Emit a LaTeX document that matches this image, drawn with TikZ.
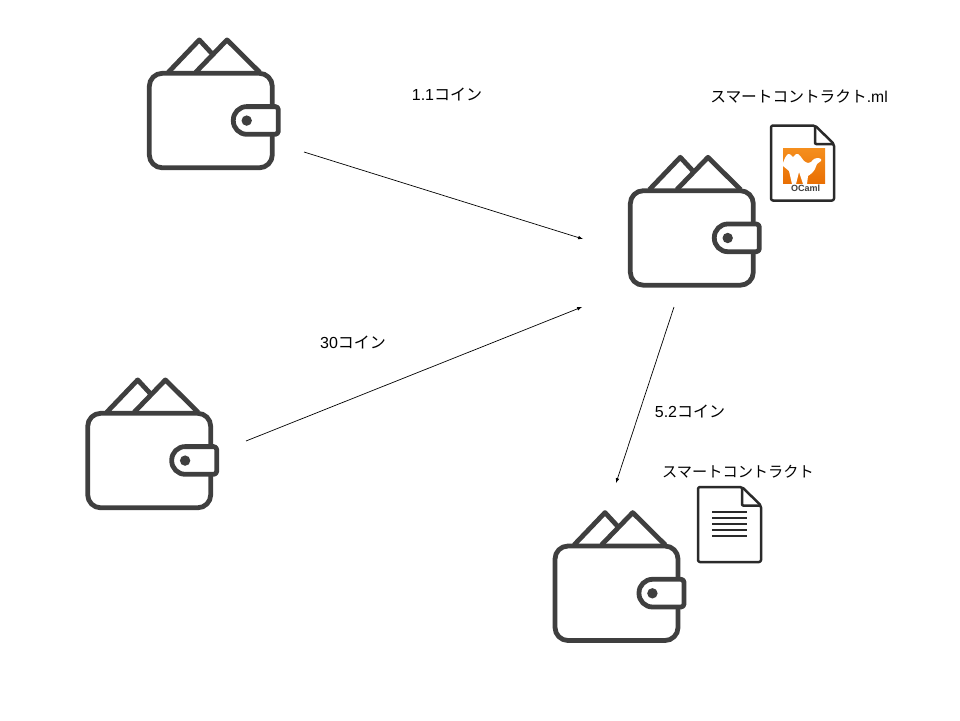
\documentclass[tikz,border=0pt]{standalone}
\usepackage{fontspec}
\setmainfont{Liberation Sans}
\newfontfamily\cjk{Noto Sans CJK JP}
\usetikzlibrary{positioning}
\definecolor{iconGray}{HTML}{3F3F3F}
\definecolor{fileGray}{HTML}{2A2A2A}
\definecolor{camelLight}{HTML}{F58F1E}
\definecolor{camelDark}{HTML}{E96F03}
\tikzset{
    transfer/.style={-latex,black,line width=0.7pt},
    caption/.style={inner sep=0pt,font=\fontsize{16}{18}\selectfont},
    iconLine/.style={iconGray,line width=4.8pt,line join=round},
    fileLine/.style={fileGray,line width=2.5pt,line join=round},
    pics/wallet/.style={code={
        \draw[iconLine] (19,-1) -- (50,-33.4) -- (62.4,-20);
        \draw[iconLine] (46.4,-1) -- (77.7,-33.4) -- (110.4,-1);
        \draw[iconLine,rounded corners=13pt] (123,33) -- (123,0) -- (0,0) -- (0,94.5) -- (123,94.5) -- (123,61);
        \draw[iconLine,fill=white,rounded corners=13.5pt] (110,33.3) -- (84,33.3) -- (84,61) -- (110,61) [rounded corners=3pt] -- (129,61) -- (129,33.3) -- cycle;
        \fill[iconGray] (97.4,47.3) circle (5.2);
    }},
    pics/filepage/.style={code={
        \draw[fileLine,fill=white,rounded corners=2pt] (0,0) -- (44,0) -- (63,18.5) -- (63,75) -- (0,75) -- cycle;
        \draw[fileLine,rounded corners=1pt] (44,0) -- (44,18.5) -- (63,18.5);
    }}
}
\begin{document}
\begin{tikzpicture}[x=1pt,y=-1pt]
\useasboundingbox (0,0) rectangle (960,720);

\foreach \v/\u/\t in
{149.3/73.3/wA,
    630.3/190.7/wB,
    87.7/413.3/wC,
    555/546/wD}
{
    \pic (\t) at (\v,\u) {wallet};
};

\pic (docMl) at (771,125.5) {filepage};
\pic (docPlain) at (698,487) {filepage};

\foreach \u in {512,518,524,530,536}
{
    \draw[fileGray,line width=2.2pt] (712,\u) -- (747,\u);
};

% OCaml logo
\shade[top color=camelLight,bottom color=camelDark] (783,148) rectangle (825,183);
\fill[white] plot[smooth,tension=0.45] coordinates {(783,163) (785,158) (788,154) (791,155) (793,157) (796,154) (798,154) (801,157) (804,161) (808,163) (811,162) (814,159) (818,158) (821,159) (821,161) (817,164) (815,169) (812,173) (808,176)} -- (807,184) -- (803,184) -- (799,172) -- (796,184) -- (792,184) -- (789,171) -- (783,166) -- cycle;
\node[inner sep=0pt,font=\fontsize{9}{10}\bfseries\selectfont,text=iconGray] (camelLabel) at (805.5,188) {OCaml};

\coordinate (aOut) at (304,152);
\coordinate (bIn) at (583,239);
\coordinate (cOut) at (246,441);
\coordinate (bInTwo) at (582,307);
\coordinate (bOut) at (674,307);
\coordinate (dIn) at (616,483);

\draw[transfer] (aOut) -- (bIn);
\draw[transfer] (cOut) -- (bInTwo);
\draw[transfer] (bOut) -- (dIn);

\node[caption] (payOne) at (447,94.5) {1.1{\cjk コイン}};
\node[caption] (payTwo) at (353,342.5) {30{\cjk コイン}};
\node[caption] (payThree) at (690,411.5) {5.2{\cjk コイン}};
\node[caption,font=\fontsize{15.7}{18}\selectfont] (mlName) at (799,96.5) {{\cjk スマートコントラクト}.ml};
\node[caption,font=\fontsize{15.2}{18}\selectfont] (plainName) at (738,471.5) {{\cjk スマートコントラクト}};
\end{tikzpicture}
\end{document}
